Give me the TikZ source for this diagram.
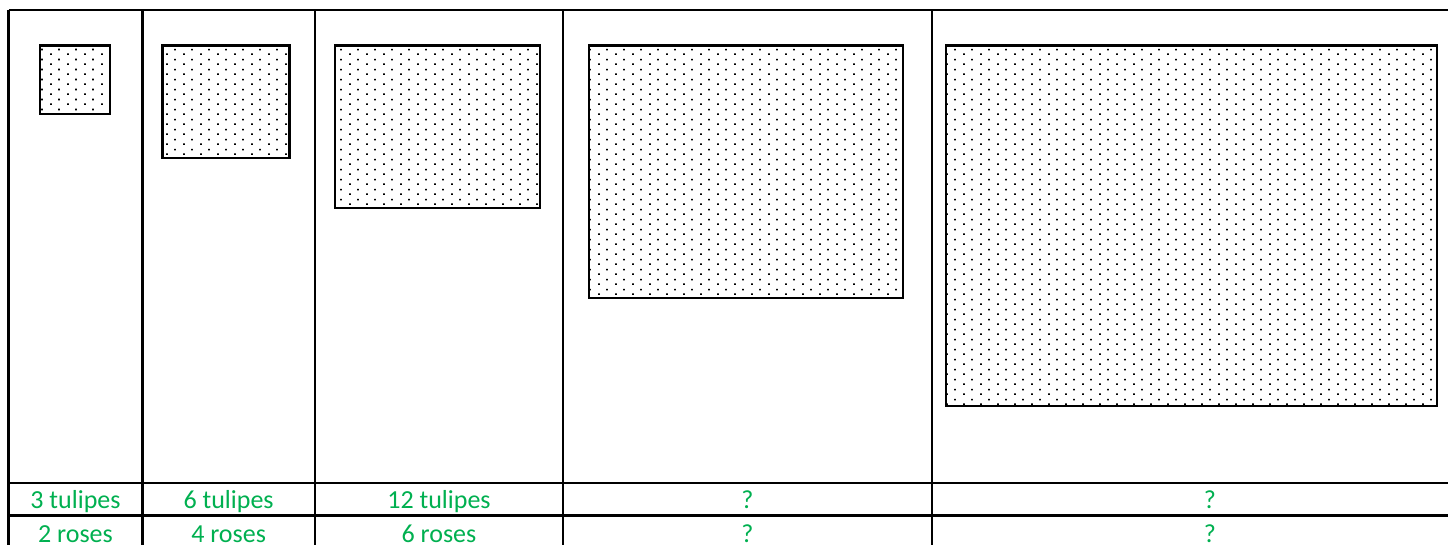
\documentclass[tikz,border=0pt]{standalone}
\usepackage{fontspec}
\setmainfont{Carlito}
\usetikzlibrary{patterns}
\pgfdeclarepatternformonly{sparsedots}{\pgfpointorigin}{\pgfpoint{16.6pt}{10pt}}{\pgfpoint{16.6pt}{10pt}}{%
  \pgfpathrectangle{\pgfpoint{0pt}{0pt}}{\pgfpoint{1.8pt}{1.8pt}}%
  \pgfpathrectangle{\pgfpoint{8.3pt}{5pt}}{\pgfpoint{1.8pt}{1.8pt}}%
  \pgfusepath{fill}}
\definecolor{offgreen}{RGB}{0,176,80}
\begin{document}
\begin{tikzpicture}[x=1pt,y=-1pt,
  gridline/.style={line width=2.7pt,black},
  flowerbed/.style={draw=black,line width=2.2pt,pattern=sparsedots,pattern color=black},
  celltext/.style={font=\fontsize{26}{30}\selectfont,text=offgreen,anchor=base,inner sep=0pt}]
\useasboundingbox (0,0) rectangle (1448,545);
\clip (0,0) rectangle (1448,545);
\fill[white] (0,0) rectangle (1448,545);
% table grid
\draw[gridline] (8.7,10) -- (1490,10);
\draw[gridline] (8.7,483) -- (1490,483);
\draw[gridline] (8.7,515.5) -- (1490,515.5);
\draw[gridline] (8.7,548) -- (1490,548);
\draw[gridline] (8.7,10) -- (8.7,550);
\draw[gridline] (142.3,10) -- (142.3,550);
\draw[gridline] (315,10) -- (315,550);
\draw[gridline] (563,10) -- (563,550);
\draw[gridline] (932,10) -- (932,550);
% flower beds
\draw[flowerbed] (40,45.5) rectangle (110,114.3);
\draw[flowerbed] (162.5,45.5) rectangle (289.5,158);
\draw[flowerbed] (335,45.5) rectangle (540,208);
\draw[flowerbed] (589,45.5) rectangle (903,298);
\draw[flowerbed] (946,45.5) rectangle (1437,406);
% texts
\node[celltext] (t1) at (75.5,508) {3 tulipes};
\node[celltext] (t2) at (228.6,508) {6 tulipes};
\node[celltext] (t3) at (439,508) {12 tulipes};
\node[celltext] (t4) at (747.5,508) {?};
\node[celltext] (t5) at (1210,508) {?};
\node[celltext] (r1) at (75.5,542) {2 roses};
\node[celltext] (r2) at (228.6,542) {4 roses};
\node[celltext] (r3) at (439,542) {6 roses};
\node[celltext] (r4) at (747.5,542) {?};
\node[celltext] (r5) at (1210,542) {?};
\end{tikzpicture}
\end{document}
